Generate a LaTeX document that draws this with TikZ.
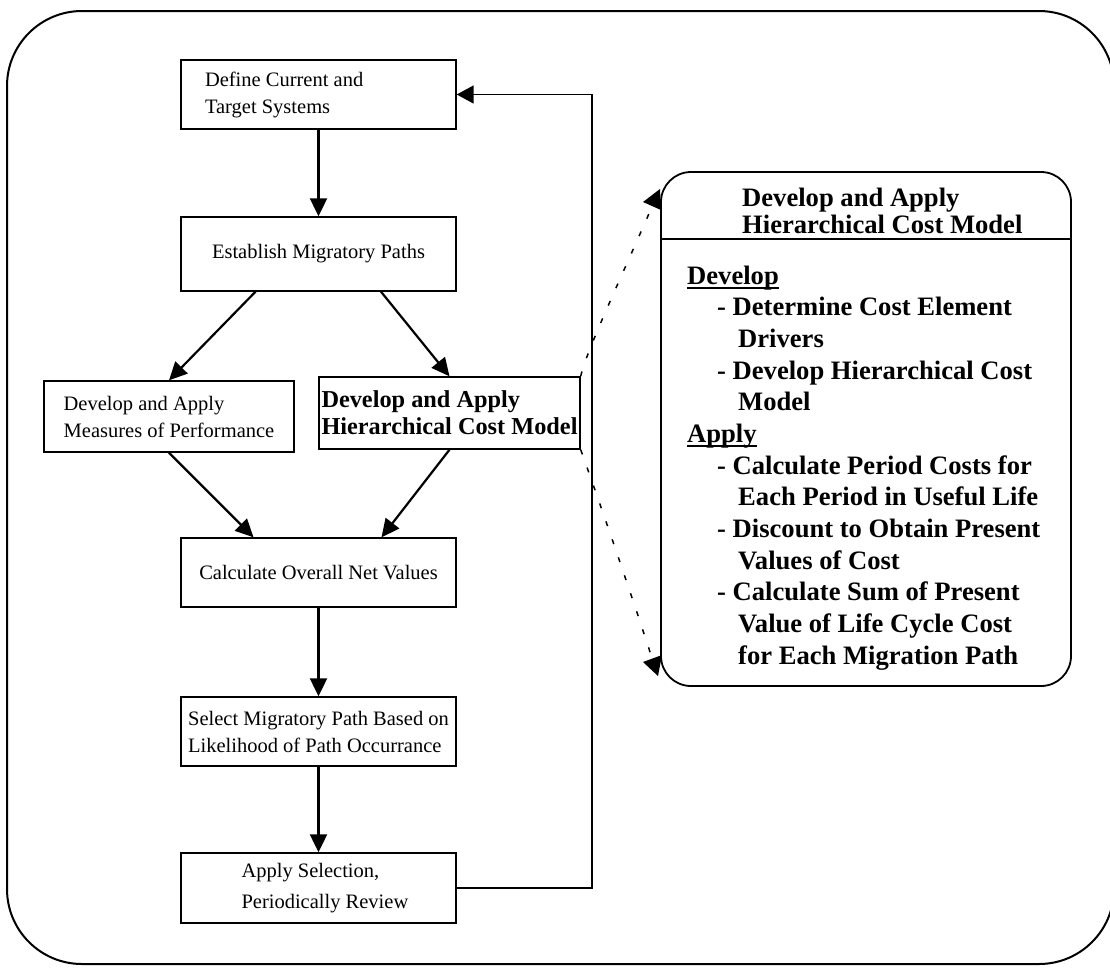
\documentclass[tikz,border=0pt]{standalone}
\usepackage{fontspec}
\setmainfont{Liberation Serif}
\usetikzlibrary{arrows.meta,calc}

\begin{document}
\begin{tikzpicture}[x=1pt,y=-1pt,
  box/.style={draw, line width=1.4pt, inner sep=0pt, align=left,
    font=\fontsize{20.5}{27}\selectfont},
  boldbox/.style={box, font=\bfseries\fontsize{24.3}{27}\selectfont},
  flow/.style={line width=2.2pt, -{Triangle[length=18pt,width=17pt]}},
  back/.style={line width=1.5pt, -{Triangle[length=17pt,width=18pt]}},
  link/.style={line width=1.5pt, dash pattern=on 5pt off 14pt},
  tip/.style={fill=black},
  rule/.style={line width=2pt},
  paneltext/.style={anchor=base west, inner sep=0pt,
    font=\bfseries\fontsize{26.6}{31.7}\selectfont}]

\useasboundingbox (0,0) rectangle (1110,967);
\clip (0,0) rectangle (1110,967);

% outer frame
\draw[line width=2pt, rounded corners=75pt] (7,11) rectangle (1114,964);

% main flow boxes
\node[box, minimum width=275pt, minimum height=69pt] (b1) at (318.5,94.5)
  {\makebox[227pt][l]{Define Current and}\\\makebox[227pt][l]{Target Systems}};
\node[box, minimum width=275pt, minimum height=74pt] (b2) at (318.5,254)
  {Establish Migratory Paths};
\node[box, minimum width=250pt, minimum height=71pt] (b3) at (169,416.5)
  {Develop and Apply\\Measures of Performance};
\node[boldbox, minimum width=261pt, minimum height=72pt] (b4) at (449.5,413)
  {Develop and Apply\\Hierarchical Cost Model};
\node[box, minimum width=275pt, minimum height=69pt] (b5) at (318.5,572.5)
  {Calculate Overall Net Values};
\node[box, minimum width=275pt, minimum height=69pt] (b6) at (318.5,731.5)
  {Select Migratory Path Based on\\Likelihood of Path Occurrance};
\node[box, minimum width=275pt, minimum height=70pt,
  font=\fontsize{20.5}{31}\selectfont] (b7) at (318.5,888)
  {\makebox[154pt][l]{Apply Selection,}\\\makebox[154pt][l]{Periodically Review}};

% flow connectors
\draw[flow] (b1.south) -- (b2.north);
\draw[flow] ($(b2.south)+(-63,0)$) -- (b3.north);
\draw[flow] ($(b2.south)+(62.5,0)$) -- (b4.north);
\draw[flow] (b3.south) -- ($(b5.north)+(-65,0)$);
\draw[flow] (b4.south) -- ($(b5.north)+(63,0)$);
\draw[flow] (b5.south) -- (b6.north);
\draw[flow] (b6.south) -- (b7.north);

% review loop back to the start
\coordinate (loopx) at (592,0);
\draw[back] (b7.east) -| (loopx |- b1.east) -- (b1.east);

% detail panel
\node[draw, line width=1.8pt, rounded corners=30pt, minimum width=410pt,
  minimum height=514pt, inner sep=0pt] (panel) at (866,429) {};
\coordinate (divy) at (0,239);
\draw[line width=1.5pt] (panel.west |- divy) -- (panel.east |- divy);

\node[paneltext, font=\bfseries\fontsize{26.6}{27}\selectfont] (t1) at (742,206) {Develop and Apply};
\node[paneltext, font=\bfseries\fontsize{26.6}{27}\selectfont] (t2) at (742,233) {Hierarchical Cost Model};

\foreach \i/\xx/\txt in {
  0/687/{Develop},
  1/717/{- Determine Cost Element},
  2/738/{Drivers},
  3/717/{- Develop Hierarchical Cost},
  4/738/{Model},
  5/687/{Apply},
  6/717/{- Calculate Period Costs for},
  7/738/{Each Period in Useful Life},
  8/717/{- Discount to Obtain Present},
  9/738/{Values of Cost},
  10/717/{- Calculate Sum of Present},
  11/738/{Value of Life Cycle Cost},
  12/738/{for Each Migration Path}}
  \node[paneltext] (line\i) at (\xx,{284+31.67*\i}) {\txt};

% section headings are underlined
\draw[rule] ($(line0.base west)+(0,4)$) -- ($(line0.base east)+(0,4)$);
\draw[rule] ($(line5.base west)+(0,4)$) -- ($(line5.base east)+(0,4)$);

% dotted call-out from the cost model box to the panel
\coordinate (hookA) at (651,209);
\coordinate (hookB) at (651,655);
\draw[link] (b4.north east) .. controls (586,352) and (620,280) .. (hookA);
\draw[link] (b4.south east) .. controls (588,470) and (620,560) .. (hookB);
\coordinate (tipA) at (643,202);
\coordinate (tipB) at (643,662);
\fill[tip] (tipA) -- ++(17,-13) -- ++(1,21) -- cycle;
\fill[tip] (tipB) -- ++(19,-7) -- ++(-4,21) -- cycle;

\end{tikzpicture}
\end{document}
